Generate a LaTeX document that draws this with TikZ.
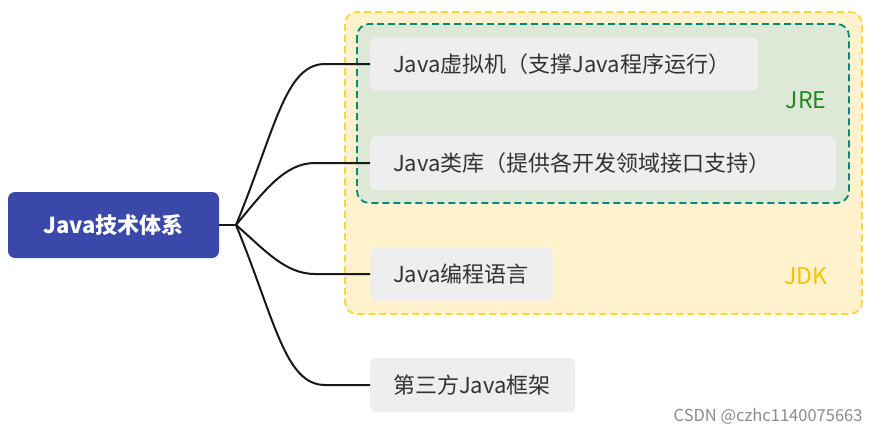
\documentclass[tikz,border=0pt]{standalone}
\usepackage{fontspec}
\setmainfont{Noto Sans CJK SC}
\usetikzlibrary{calc}
\definecolor{rootblue}{HTML}{3A48A9}
\definecolor{nodegray}{HTML}{EEEEEE}
\definecolor{txtgray}{HTML}{333333}
\definecolor{jrefill}{HTML}{DDE8D7}
\definecolor{jreline}{HTML}{00897B}
\definecolor{jdkfill}{HTML}{FFF2CC}
\definecolor{jdkline}{HTML}{FDD835}
\definecolor{jretext}{HTML}{1E8A1E}
\definecolor{jdktext}{HTML}{F7C300}
\tikzset{
  leaf/.style={fill=nodegray, rounded corners=6pt, minimum height=54pt, inner xsep=23pt, inner ysep=0pt,
    anchor=west, text=txtgray, align=left, font=\fontsize{22}{26}\selectfont},
  branch/.style={line width=2pt, draw=black!90},
  group/.style={dashed, dash pattern=on 7pt off 4pt, line width=1.8pt, rounded corners=12pt}
}
\begin{document}
\begin{tikzpicture}[x=1pt,y=-1pt]
\useasboundingbox (0,0) rectangle (881,434);
\fill[white] (0,0) rectangle (881,434);
% group boxes
\draw[group, draw=jdkline, fill=jdkfill] (345,12) rectangle (862,314);
\draw[group, draw=jreline, fill=jrefill] (357,24) rectangle (849,203);
\node[text=jretext, font=\fontsize{23}{26}\selectfont] (jre) at (806,100) {JRE};
\node[text=jdktext, font=\fontsize{23}{26}\selectfont] (jdk) at (806,276) {JDK};
% root
\node[fill=rootblue, rounded corners=7pt, minimum width=211pt, minimum height=66pt,
  text=white, font=\bfseries\fontsize{22}{26}\selectfont, inner sep=0pt] (root) at (113.5,225) {Java技术体系};
% leaves
\node[leaf, text width=342pt] (n1) at (370,64) {Java虚拟机（支撑Java程序运行）};
\node[leaf, text width=420pt] (n2) at (370,163) {Java类库（提供各开发领域接口支持）};
\node[leaf, text width=137pt] (n3) at (370,274) {Java编程语言};
\node[leaf, text width=159pt] (n4) at (370,385) {第三方Java框架};
% connectors
\coordinate (j) at (236,225);
\coordinate (e1) at (325,64);
\coordinate (e2) at (315,163);
\coordinate (e3) at (315,274);
\coordinate (e4) at (325,385);
\draw[branch] (root.east) -- (j);
\draw[branch] (j) .. controls (275,130) and (285,64) .. (e1) -- (n1.west);
\draw[branch] (j) .. controls (265,190) and (285,163) .. (e2) -- (n2.west);
\draw[branch] (j) .. controls (265,250) and (285,274) .. (e3) -- (n3.west);
\draw[branch] (j) .. controls (275,320) and (285,385) .. (e4) -- (n4.west);
% watermark
\node[text=black!45, font=\fontsize{16.5}{19}\selectfont, anchor=east] (wm) at (866,416) {CSDN @czhc1140075663};
\end{tikzpicture}
\end{document}
